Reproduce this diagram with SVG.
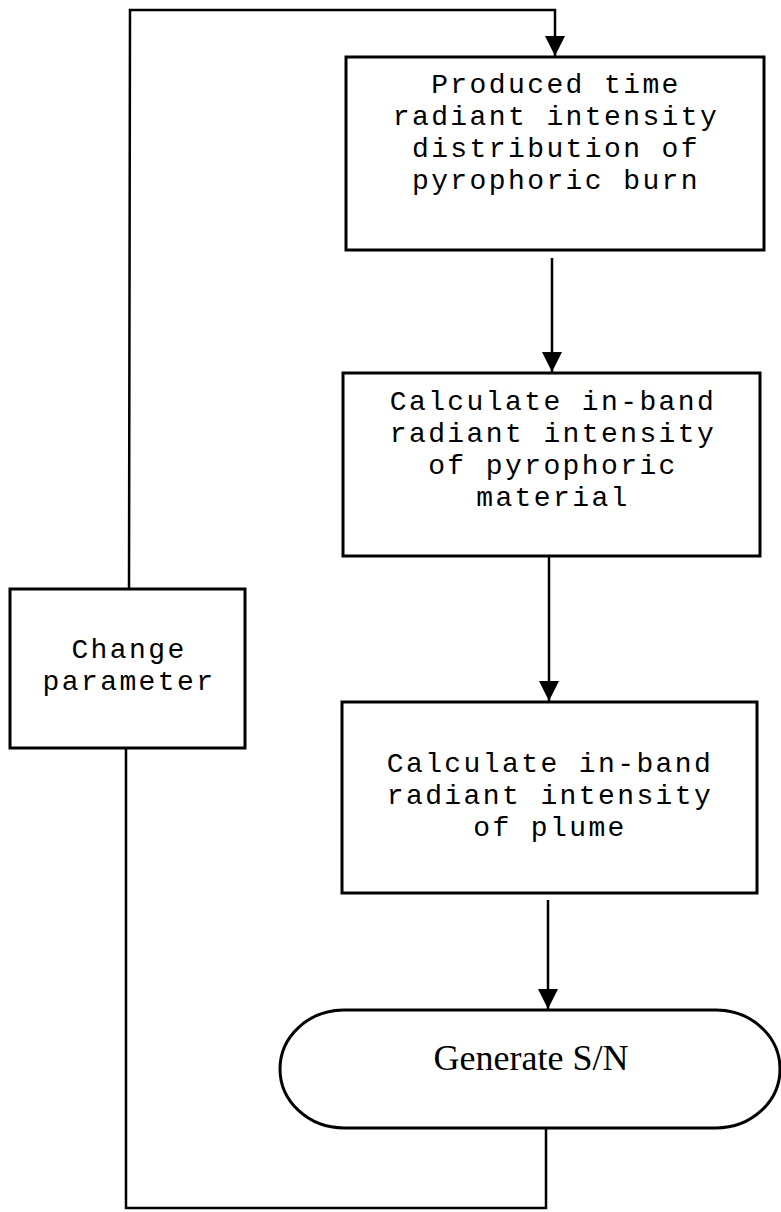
<svg xmlns="http://www.w3.org/2000/svg" width="781" height="1212" viewBox="0 0 781 1212">
<style>
.box{fill:#fff;stroke:#000;stroke-width:3}
.mono{font-family:"Liberation Mono","Courier New",monospace;font-size:28px;letter-spacing:2.4px;fill:#000;text-anchor:middle}
.serif{font-family:"Liberation Serif","Times New Roman",serif;font-size:36px;fill:#000;text-anchor:middle}
.conn{fill:none;stroke:#000;stroke-width:2.5}
</style>
<defs>
<marker id="arr" viewBox="0 0 20 20" refX="20" refY="10" markerWidth="20" markerHeight="20" markerUnits="userSpaceOnUse" orient="auto">
<path d="M0,0 L20,10 L0,20 Z" fill="#000"/>
</marker>
</defs>
<g id="connectors">
<path class="conn" d="M546,1128 L546,1208 L126,1208 L126,748" />
<path class="conn" d="M129,589 L130,10 L555,10 L555,56" marker-end="url(#arr)"/>
<path class="conn" d="M552,258 L552,372" marker-end="url(#arr)"/>
<path class="conn" d="M549,557 L549,701" marker-end="url(#arr)"/>
<path class="conn" d="M548,900 L548,1009" marker-end="url(#arr)"/>
</g>
<g id="node1">
<rect class="box" x="346" y="57" width="418" height="193"/>
<text class="mono" x="556" y="93">Produced time</text>
<text class="mono" x="556" y="125">radiant intensity</text>
<text class="mono" x="556" y="157">distribution of</text>
<text class="mono" x="556" y="189">pyrophoric burn</text>
</g>
<g id="node2">
<rect class="box" x="343" y="373" width="417" height="183"/>
<text class="mono" x="553" y="410">Calculate in-band</text>
<text class="mono" x="553" y="442">radiant intensity</text>
<text class="mono" x="553" y="474">of pyrophoric</text>
<text class="mono" x="553" y="506">material</text>
</g>
<g id="node3">
<rect class="box" x="342" y="702" width="415" height="191"/>
<text class="mono" x="550" y="772">Calculate in-band</text>
<text class="mono" x="550" y="804">radiant intensity</text>
<text class="mono" x="550" y="836">of plume</text>
</g>
<g id="node4">
<rect class="box" x="10" y="589" width="235" height="159"/>
<text class="mono" x="129" y="658">Change</text>
<text class="mono" x="129" y="690">parameter</text>
</g>
<g id="node5">
<rect class="box" x="280" y="1010" width="500" height="118" rx="64" ry="59"/>
<text class="serif" x="531" y="1070">Generate S/N</text>
</g>
</svg>
